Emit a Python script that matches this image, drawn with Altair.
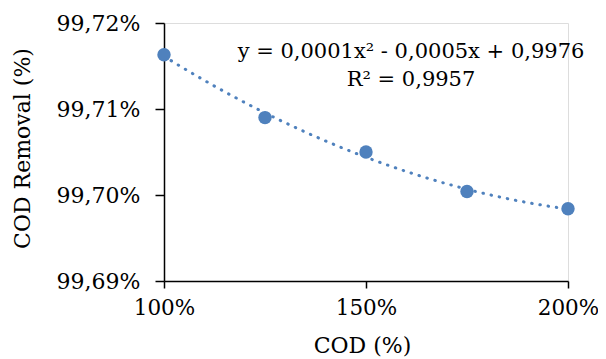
import altair as alt
import pandas as pd

cod = [1.00, 1.25, 1.50, 1.75, 2.00]
removal = [0.997163, 0.997090, 0.997050, 0.997004, 0.996984]
x_ticks = [1.0, 1.5, 2.0]
y_ticks = [0.9969, 0.9970, 0.9971, 0.9972]
equation = ["y = 0,0001x² - 0,0005x + 0,9976", "R² = 0,9957"]

df = pd.DataFrame({"cod": cod, "removal": removal})

FONT = "DejaVu Serif"
BLUE = "#4F81BD"
lab = "replace(format(datum.value, '.0%'), '.', ',')"
laby = "replace(format(datum.value, '.2%'), '.', ',')"

xenc = alt.X("cod:Q", scale=alt.Scale(domain=[1, 2], nice=False, zero=False),
             axis=alt.Axis(values=x_ticks, labelExpr=lab, title="COD (%)",
                           grid=False, domainColor="black", domainWidth=1.5,
                           tickColor="black", tickWidth=1.5, tickSize=7,
                           labelFlush=False, labelOverlap=False,
                           labelPadding=9, labelFont=FONT, labelFontSize=21.5,
                           labelColor="black", titleFont=FONT, titleFontSize=22,
                           titleFontWeight="normal", titleColor="black",
                           titleX=198, titleY=64, titleBaseline="middle",
                           titleAlign="center"))
yenc = alt.Y("removal:Q", scale=alt.Scale(domain=[0.9969, 0.9972], nice=False, zero=False),
             axis=alt.Axis(values=y_ticks, labelExpr=laby, title="COD Removal (%)",
                           grid=False, domainColor="black", domainWidth=1.5,
                           tickColor="black", tickWidth=1.5, tickSize=9,
                           labelFlush=False, labelOverlap=False,
                           labelPadding=15, labelFont=FONT, labelFontSize=22,
                           labelColor="black", titleFont=FONT, titleFontSize=22,
                           titleFontWeight="normal", titleColor="black",
                           titleAngle=270, titleX=-142, titleY=125,
                           titleBaseline="middle", titleAlign="center"))

base = alt.Chart(df)

trend = base.transform_regression(
    "cod", "removal", method="poly", order=2, extent=[1, 2]
).mark_line(color=BLUE, strokeWidth=3, strokeDash=[0.5, 7.8], strokeCap="round").encode(
    x=xenc, y=yenc
)

points = base.mark_circle(color=BLUE, opacity=1, size=180).encode(x=xenc, y=yenc)

eq = alt.Chart(pd.DataFrame({"a": [0]})).mark_text(
    font=FONT, fontSize=21, color="black", align="center", baseline="middle",
    lineHeight=28
).encode(x=alt.value(247), y=alt.value(29), text=alt.value(equation))

chart = alt.layer(trend, points, eq).properties(
    width=404, height=258,
    autosize=alt.AutoSizeParams(type="none"),
    padding={"left": 156, "top": 15, "right": 30, "bottom": 76},
).configure_view(stroke=None).configure(background="white")

chart.save("out.html", embed_options={"renderer": "svg", "actions": False})
